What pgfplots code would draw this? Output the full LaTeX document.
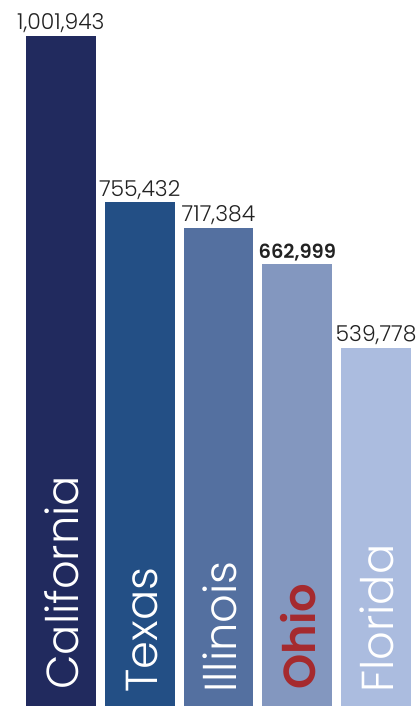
\documentclass[border=0pt]{standalone}
\usepackage{fontspec}
\IfFontExistsTF{Poppins Light}{\setmainfont{Poppins Light}[BoldFont=Poppins SemiBold]}{\setmainfont{Poppins}}
\usepackage{pgfplots}
\pgfplotsset{compat=1.18}

\definecolor{caC}{HTML}{212A5E}
\definecolor{txC}{HTML}{234F85}
\definecolor{ilC}{HTML}{5470A0}
\definecolor{ohC}{HTML}{8397BF}
\definecolor{flC}{HTML}{ABBCDF}
\definecolor{ohRed}{HTML}{A52A2E}
\definecolor{valC}{HTML}{222222}

\begin{document}
\begin{tikzpicture}
\begin{axis}[
    hide axis,
    scale only axis,
    width=417bp, height=706bp,
    xmin=-0.772, xmax=4.519,
    ymin=8900, ymax=1054700,
    bar width=0.886,
    clip=false,
    point meta=explicit symbolic,
    nodes near coords,
    every node near coord/.append style={anchor=base, yshift=6bp, inner sep=0pt,
        font=\fontsize{22}{24}\selectfont, text=valC},
]
\addplot[ybar, bar shift=0pt, fill=caC, draw=none] coordinates {(0,1001943) [1,001,943]};
\addplot[ybar, bar shift=0pt, fill=txC, draw=none] coordinates {(1,755432) [755,432]};
\addplot[ybar, bar shift=0pt, fill=ilC, draw=none] coordinates {(2,717384) [717,384]};
\addplot[ybar, bar shift=0pt, fill=ohC, draw=none,
    every node near coord/.append style={font=\fontsize{19.5}{20}\selectfont\bfseries}]
    coordinates {(3,662999) [662,999]};
\addplot[ybar, bar shift=0pt, fill=flC, draw=none] coordinates {(4,539778) [539,778]};

% category names, rotated inside the bars
\begin{scope}[every node/.style={rotate=90, anchor=base west, inner sep=0pt,
    font=\fontsize{45}{47}\selectfont, text=white}]
\node at (axis cs:0.225,32600) {California};
\node at (axis cs:1.225,28200) {Texas};
\node at (axis cs:2.225,28200) {Illinois};
\node[text=ohRed, font=\fontsize{45}{47}\selectfont\bfseries] at (axis cs:3.225,32600) {Ohio};
\node at (axis cs:4.225,28200) {Florida};
\end{scope}
\path (rel axis cs:0,0) rectangle (rel axis cs:1,1);
\end{axis}
\end{tikzpicture}
\end{document}
